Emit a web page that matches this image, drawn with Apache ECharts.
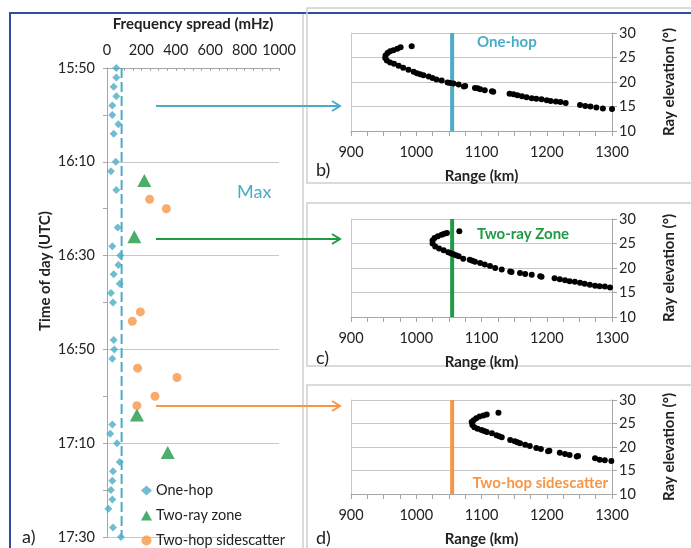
<!DOCTYPE html>
<html>
<head>
<meta charset="utf-8">
<script src="https://cdn.jsdelivr.net/npm/echarts@6/dist/echarts.min.js"></script>
<style>
html,body{margin:0;padding:0;background:#fff;}
#chart{width:691px;height:548px;}
</style>
</head>
<body>
<div id="chart"></div>
<script>
// ---------- DATA ----------
const timeStart = '15:50';
const timeEnd = '17:30';
const freqMin = 0, freqMax = 1000;

const oneHopTimes = ['15:50','15:52','15:54','15:56','15:58','16:00','16:02','16:04','16:10','16:12','16:16','16:24','16:28','16:30','16:32','16:34','16:36','16:38','16:40','16:48','16:50','16:52','17:06','17:08','17:10','17:14','17:16','17:18','17:20','17:22','17:24','17:28','17:30'];
const oneHopSpread = [54,54,39,54,31,31,66,39,51,23,54,62,31,77,66,39,74,23,35,39,42,31,31,19,58,74,35,31,23,31,8,35,81];

const twoRayTimes = ['16:14','16:26','17:04','17:12'];
const twoRaySpread = [217,159,174,353];

const twoHopTimes = ['16:18','16:20','16:42','16:44','16:54','16:56','17:00','17:02'];
const twoHopSpread = [248,345,194,147,178,407,279,174];

const maxSpread = 85;

// ray traces: [range km, elevation deg]
const rayOneHop = [[993,27.3],[976,27.1],[971,26.8],[965,26.5],[960,26.3],[956,25.9],[953,25.4],[952.5,24.9],[955,24.4],[960,24.0],[966,23.7],[973,23.3],[980,22.9],[988,22.5],[996,22.1],[1001,21.8],[1006,21.6],[1011,21.4],[1019,21.1],[1025,20.8],[1031,20.5],[1039,20.3],[1048,19.9],[1052,19.8],[1057,19.7],[1065,19.5],[1073,19.1],[1075,19.2],[1090,18.8],[1094,18.7],[1098,18.5],[1105,18.3],[1116,18.1],[1118,18.0],[1143,17.6],[1149,17.5],[1155,17.3],[1162,17.1],[1169,16.9],[1177,16.7],[1184,16.6],[1192,16.5],[1200,16.3],[1206,16.1],[1214,16.0],[1221,15.9],[1229,15.7],[1251,15.3],[1259,15.1],[1267,15.0],[1276,14.8],[1286,14.6],[1300,14.5]];
const rayTwoRay = [[1066,27.5],[1047,27.15],[1043,27.0],[1039,26.8],[1033,26.5],[1028,26.1],[1025,25.6],[1025,25.0],[1029,24.4],[1035,24.0],[1042,23.6],[1049,23.2],[1053,23.0],[1057,22.8],[1061,22.6],[1065,22.4],[1072,21.9],[1082,21.7],[1086,21.5],[1090,21.3],[1098,21.0],[1105,20.7],[1113,20.4],[1121,20.0],[1131,19.7],[1144,19.3],[1146,19.2],[1159,19.0],[1167,18.8],[1177,18.6],[1190,18.3],[1192,18.2],[1212,17.9],[1220,17.7],[1228,17.5],[1235,17.3],[1243,17.2],[1251,17.0],[1258,16.8],[1266,16.6],[1274,16.4],[1281,16.3],[1289,16.2],[1297,16.0]];
const rayTwoHop = [[1126,27.3],[1108,26.9],[1103,26.7],[1097,26.5],[1092,26.1],[1088,25.7],[1085,25.3],[1086,24.7],[1089,24.2],[1094,23.9],[1100,23.6],[1104,23.4],[1108,23.2],[1116,22.9],[1123,22.5],[1127,22.3],[1131,22.1],[1144,21.5],[1151,21.2],[1155,21.0],[1159,20.8],[1167,20.5],[1174,20.2],[1184,19.8],[1191,19.6],[1202,19.1],[1204,19.2],[1220,18.8],[1228,18.5],[1235,18.3],[1246,18.0],[1248,18.1],[1274,17.6],[1281,17.3],[1289,17.2],[1299,17.0]];

const markerRange = 1055;
const rangeMin = 900, rangeMax = 1300;
const elevMin = 10, elevMax = 30;

// ---------- HELPERS ----------
const toMin = s => { const [h,m] = s.split(':').map(Number); return h*60+m; };
const base = toMin(timeStart);
const span = toMin(timeEnd) - base;
const fmtTime = v => { const t = base + v; const h = Math.floor(t/60), m = t%60; return h + ':' + (m<10?'0':'') + m; };
const fmtNum = v => String(v);
const pts = (times, vals) => times.map((t,i) => [vals[i], toMin(t)-base]);

const CYAN = '#4BACC6', GREEN = '#1F9A45', ORANGE = '#F79646';
const GRID = '#C8C8C8', AXIS = '#A6A6A6', TXT = '#222';
const FONT = 'Lato';

const panelTops = [33, 219, 400];
const rightGrids = panelTops.map(t => ({left:351, top:t, width:261, height:98}));

const xRight = rightGrids.map((g,i) => ({
  type:'value', gridIndex:i+1, min:rangeMin, max:rangeMax, interval:100,
  position:'bottom',
  name:'Range (km)', nameLocation:'middle', nameGap:38,
  nameTextStyle:{fontFamily:FONT, fontWeight:'bold', fontSize:15, color:TXT},
  axisLine:{show:true, lineStyle:{color:AXIS, width:1}},
  axisTick:{show:true, length:5, lineStyle:{color:AXIS}},
  minorTick:{show:true, splitNumber:4, length:5, lineStyle:{color:AXIS}},
  axisLabel:{margin:14, fontFamily:FONT, fontSize:14.5, color:TXT, formatter:fmtNum},
  splitLine:{show:false}
}));

const yRight = [];
rightGrids.forEach((g,i) => {
  yRight.push({
    type:'value', gridIndex:i+1, min:elevMin, max:elevMax, interval:5, position:'right',
    name:'Ray elevation (°)', nameLocation:'middle', nameRotate:90, nameGap:50,
    nameTextStyle:{fontFamily:FONT, fontWeight:'bold', fontSize:15, color:TXT},
    axisLine:{show:true, lineStyle:{color:AXIS, width:1}},
    axisTick:{show:true, length:5, lineStyle:{color:AXIS}},
    axisLabel:{margin:7, fontFamily:FONT, fontSize:14.5, color:TXT},
    splitLine:{show:true, lineStyle:{color:GRID, width:1}}
  });
  yRight.push({
    type:'value', gridIndex:i+1, min:elevMin, max:elevMax, position:'left',
    axisLine:{show:true, lineStyle:{color:GRID, width:1}},
    axisTick:{show:false}, axisLabel:{show:false}, splitLine:{show:false}
  });
});

const rays = [rayOneHop, rayTwoRay, rayTwoHop];
const rayColors = [CYAN, GREEN, ORANGE];

const series = [
  {name:'Max', type:'line', xAxisIndex:0, yAxisIndex:0, data:[[maxSpread,0],[maxSpread,span]],
   symbol:'none', z:1, lineStyle:{color:CYAN, width:2, type:[10,4]}, silent:true},
  {name:'One-hop', type:'scatter', xAxisIndex:0, yAxisIndex:0, data:pts(oneHopTimes, oneHopSpread),
   symbol:'diamond', symbolSize:8, itemStyle:{color:CYAN}, z:3},
  {name:'Two-ray zone', type:'scatter', xAxisIndex:0, yAxisIndex:0, data:pts(twoRayTimes, twoRaySpread),
   symbol:'triangle', symbolSize:[14,13], itemStyle:{color:GREEN}, z:3},
  {name:'Two-hop sidescatter', type:'scatter', xAxisIndex:0, yAxisIndex:0, data:pts(twoHopTimes, twoHopSpread),
   symbol:'circle', symbolSize:9, itemStyle:{color:ORANGE}, z:3}
];
rays.forEach((r,i) => {
  series.push({type:'line', xAxisIndex:i+1, yAxisIndex:1+2*i,
    data:[[markerRange,elevMin],[markerRange,elevMax]], symbol:'none', z:2,
    lineStyle:{color:rayColors[i], width:4}, silent:true});
  series.push({type:'scatter', xAxisIndex:i+1, yAxisIndex:1+2*i, data:r,
    symbol:'circle', symbolSize:6, itemStyle:{color:'#000', opacity:1}, z:3});
});

const arrow = (y, color) => ([
  {type:'line', shape:{x1:156, y1:y, x2:339, y2:y}, style:{stroke:color, lineWidth:2}, z:10},
  {type:'polyline', shape:{points:[[332,y-5],[340,y],[332,y+5]]}, style:{stroke:color, lineWidth:2, fill:null}, z:10}
]);

const txt = (text, x, y, opts) => Object.assign({type:'text', z:10,
  style:Object.assign({text, x, y, fill:TXT, font:'14px '+FONT, textAlign:'left', textVerticalAlign:'middle'}, opts||{})});

const graphic = [
  {type:'rect', shape:{x:10, y:13, width:700, height:560}, style:{stroke:'#2F4E9E', lineWidth:2, fill:null}, z:0},
  {type:'line', shape:{x1:303, y1:14, x2:303, y2:548}, style:{stroke:'#CFCFCF', lineWidth:1.5}, z:0},
  {type:'rect', shape:{x:307, y:8, width:400, height:175}, style:{stroke:'#CFCFCF', lineWidth:1.5, fill:null}, z:0},
  {type:'rect', shape:{x:307, y:203, width:400, height:163}, style:{stroke:'#CFCFCF', lineWidth:1.5, fill:null}, z:0},
  {type:'rect', shape:{x:307, y:385, width:400, height:200}, style:{stroke:'#CFCFCF', lineWidth:1.5, fill:null}, z:0},
  ...arrow(106, CYAN), ...arrow(239, GREEN), ...arrow(406, ORANGE),
  txt('Max', 237, 192, {fill:CYAN, font:'18px '+FONT}),
  txt('a)', 22, 537, {font:'18px '+FONT}),
  txt('b)', 316, 170, {font:'18px '+FONT}),
  txt('c)', 316, 358, {font:'18px '+FONT}),
  txt('d)', 316, 538, {font:'18px '+FONT}),
  txt('One-hop', 477, 42, {fill:CYAN, font:'bold 15px '+FONT}),
  txt('Two-ray Zone', 477, 234, {fill:GREEN, font:'bold 15px '+FONT}),
  txt('Two-hop sidescatter', 608, 483, {fill:ORANGE, font:'bold 15px '+FONT, textAlign:'right'}),
  {type:'text', z:10, x:45, y:271, rotation:Math.PI/2,
   style:{text:'Time of day (UTC)', x:0, y:0, fill:TXT, font:'bold 15px '+FONT, textAlign:'center', textVerticalAlign:'middle'}}
];

const option = {
  animation:false,
  textStyle:{fontFamily:FONT},
  grid:[{left:107, top:68, width:172, height:469}, ...rightGrids],
  xAxis:[{
    type:'value', gridIndex:0, min:freqMin, max:freqMax, interval:200, position:'top',
    name:'Frequency spread (mHz)', nameLocation:'middle', nameGap:36,
    nameTextStyle:{fontFamily:FONT, fontWeight:'bold', fontSize:15, color:TXT},
    axisLine:{show:true, lineStyle:{color:AXIS, width:1}},
    axisTick:{show:true, inside:true, length:3, lineStyle:{color:AXIS}},
    minorTick:{show:true, splitNumber:4, length:3, lineStyle:{color:AXIS}},
    axisLabel:{margin:10, fontFamily:FONT, fontSize:14.5, color:TXT, formatter:fmtNum},
    splitLine:{show:false}
  }, ...xRight],
  yAxis:[{
    type:'value', gridIndex:0, min:0, max:span, interval:20, inverse:true,
    axisLine:{show:true, lineStyle:{color:AXIS, width:1}},
    axisTick:{show:true, length:4, lineStyle:{color:AXIS}},
    minorTick:{show:true, splitNumber:2, length:4, lineStyle:{color:AXIS}},
    axisLabel:{margin:12, fontFamily:FONT, fontSize:14.5, color:TXT, formatter:fmtTime},
    splitLine:{show:true, lineStyle:{color:GRID, width:1}}
  }, ...yRight],
  legend:{
    data:['One-hop','Two-ray zone','Two-hop sidescatter'],
    orient:'vertical', left:141, top:483, padding:0, itemGap:10,
    itemWidth:11, itemHeight:10,
    textStyle:{fontFamily:FONT, fontSize:14.5, color:TXT, padding:[0,0,0,-1]}
  },
  series,
  graphic
};

const chart = echarts.init(document.getElementById('chart'));
chart.setOption(option);
</script>
</body>
</html>
